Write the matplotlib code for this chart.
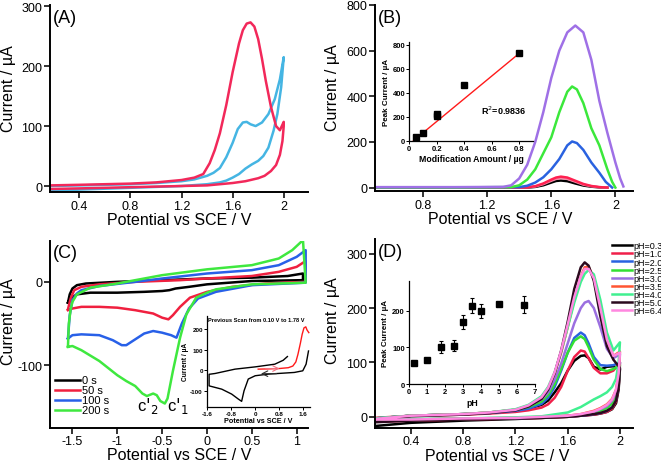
import matplotlib.pyplot as plt
from matplotlib.ticker import FuncFormatter

plt.rcParams['font.family'] = ['Liberation Sans', 'DejaVu Sans']
plt.rcParams['axes.unicode_minus'] = False

# ---------------- Panel A: CV, two electrodes ----------------
a_red_x = [0.17, 0.4, 0.8, 1.0, 1.2, 1.3, 1.37, 1.42, 1.46, 1.5, 1.55, 1.6, 1.65, 1.68, 1.71, 1.74,
           1.77, 1.8, 1.83, 1.86, 1.9, 1.94, 1.97, 2.0,
           2.0, 1.99, 1.97, 1.94, 1.9, 1.85, 1.8, 1.7, 1.6, 1.5, 1.4, 1.2, 0.8, 0.4, 0.17]
a_red_y = [1, 2, 4, 6, 10, 14, 20, 38, 60, 88, 135, 190, 238, 260, 271, 273,
           266, 245, 212, 175, 132, 100, 93, 107,
           100, 75, 52, 35, 25, 17, 13, 8, 5, 3, 1, 0, -2, -4, -5]
a_blue_x = [0.17, 0.4, 0.8, 1.0, 1.2, 1.3, 1.4, 1.45, 1.5, 1.55, 1.6, 1.64, 1.68, 1.71, 1.74, 1.78,
            1.83, 1.88, 1.93, 1.97, 2.0,
            2.0, 1.98, 1.95, 1.92, 1.88, 1.84, 1.8, 1.75, 1.7, 1.65, 1.6, 1.55, 1.5, 1.4, 1.2, 0.8, 0.4, 0.17]
a_blue_y = [0, 1, 3, 5, 8, 11, 17, 22, 30, 48, 72, 95, 106, 107, 103, 100,
            106, 120, 145, 178, 215,
            215, 165, 120, 92, 64, 50, 42, 36, 29, 20, 14, 9, 6, 3, 0, -3, -6, -9]

# ---------------- Panel B: DPV, modification amount ----------------
b_purple_x = [0.5, 1.0, 1.3, 1.35, 1.4, 1.45, 1.5, 1.55, 1.6, 1.65, 1.7, 1.75, 1.8, 1.85, 1.9, 1.95, 2.0, 2.03, 2.05]
b_purple_y = [2, 2, 3, 10, 40, 100, 200, 330, 480, 600, 680, 710, 680, 560, 380, 240, 110, 40, 5]
b_green_x = [0.5, 1.0, 1.35, 1.4, 1.45, 1.5, 1.55, 1.6, 1.65, 1.7, 1.73, 1.76, 1.8, 1.85, 1.9, 1.95, 1.98, 2.0]
b_green_y = [1, 1, 2, 10, 35, 80, 150, 220, 330, 420, 443, 430, 370, 260, 185, 80, 25, 0]
b_blue_x = [0.5, 1.0, 1.4, 1.45, 1.5, 1.55, 1.6, 1.65, 1.7, 1.73, 1.76, 1.8, 1.85, 1.9, 1.94, 1.98]
b_blue_y = [1, 1, 2, 8, 22, 45, 80, 125, 185, 202, 195, 165, 110, 65, 25, 0]
b_small_x = [0.5, 1.0, 1.45, 1.5, 1.55, 1.6, 1.63, 1.66, 1.7, 1.75, 1.8, 1.85, 1.9, 1.95]
b_red_y = [0, 0, 1, 6, 18, 35, 44, 48, 44, 30, 16, 7, 2, 0]
b_pink_y = [0, 0, 1, 5, 15, 30, 38, 41, 38, 26, 13, 6, 2, 0]
b_black_y = [0, 0, 0, 3, 10, 22, 29, 31, 28, 18, 9, 4, 1, 0]

# inset B: peak current vs modification amount
mod_amount = [0.05, 0.1, 0.2, 0.2, 0.4, 0.8]
mod_peak = [33, 62, 203, 222, 467, 728]
fit_x = [0.03, 0.8]
fit_y = [0, 728]

# ---------------- Panel C: CV after accumulation ----------------
c_black_x = [-1.55, -1.53, -1.5, -1.45, -1.35, -1.0, -0.5, 0, 0.5, 0.9, 1.07,
             1.07, 0.5, 0, -0.2, -0.35, -0.42, -0.5, -0.7, -1.0, -1.3, -1.45, -1.52, -1.55]
c_black_y = [-25, -15, -8, -4, -2, 0, 2, 4, 5, 7, 10,
             2, 1, -3, -6, -8, -10, -11, -12, -13, -13, -15, -20, -25]
c_red_x = [-1.55, -1.52, -1.48, -1.4, -1.2, -0.8, -0.3, 0, 0.5, 0.8, 1.0, 1.1,
           1.1, 0.65, 0.28, 0, -0.19, -0.3, -0.38, -0.43, -0.5, -0.6, -0.8, -1.0, -1.2, -1.4, -1.5, -1.55]
c_red_y = [-33, -20, -10, -6, -3, 0, 2, 4, 7, 12, 18, 25,
           0, -2, -6, -12, -19, -30, -40, -45, -43, -38, -34, -31, -30, -30, -32, -34]
c_blue_x = [-1.55, -1.53, -1.5, -1.45, -1.4, -1.2, -0.8, -0.5, 0, 0.5, 0.8, 1.0, 1.1,
            1.1, 0.5, 0.1, -0.1, -0.2, -0.28, -0.34, -0.4, -0.5, -0.6, -0.7, -0.8, -0.9, -0.95,
            -1.05, -1.2, -1.4, -1.5, -1.55]
c_blue_y = [-68, -40, -22, -14, -10, -5, 0, 4, 10, 14, 20, 30, 38,
            -1, -4, -12, -20, -32, -50, -67, -64, -61, -59, -62, -69, -76, -76,
            -70, -64, -63, -64, -68]
c_green_x = [-1.55, -1.54, -1.52, -1.5, -1.45, -1.3, -1.0, -0.5, 0, 0.3, 0.5, 0.8, 0.95, 1.07,
             1.1, 0.5, 0.1, 0, -0.12, -0.23, -0.3, -0.38, -0.44, -0.47, -0.52, -0.56, -0.6,
             -0.67, -0.72, -0.8, -0.9, -1.0, -1.2, -1.4, -1.5, -1.55]
c_green_y = [-78, -50, -33, -24, -15, -7, -2, 8, 15, 18, 20, 28, 38, 50,
             -1, -3, -9, -13, -19, -39, -67, -107, -140, -146, -143, -136, -134,
             -137, -134, -125, -119, -112, -95, -82, -77, -78]
c_labels = ['0 s', '50 s', '100 s', '200 s']

# inset C: previous scan
prev_red_x = [0.10, 0.4, 0.8, 1.1, 1.25, 1.35, 1.42, 1.5, 1.56, 1.62, 1.68, 1.72, 1.78]
prev_red_y = [5, 6, 8, 12, 20, 40, 77, 130, 174, 205, 210, 195, 182]
prev_black_x = [1.07, 0.93, 0.65, 0, -0.67, -1.33, -1.53, -1.53, -1.11, -0.78, -0.56, -0.45,
                -0.37, -0.23, 0, 0.44, 1.3, 1.58, 1.69, 1.77]
prev_black_y = [66, 48, 29, 16, 5, -16, -20, -76, -92, -116, -140, -151,
                -100, -43, -27, -19, -11, -3, 29, 93]
arrow_red = [0.25, 0.9, 8]
arrow_black = [0.8, 0.1, -17]

# ---------------- Panel D: CV at different pH ----------------
ph_labels = ['pH=0.3', 'pH=1.0', 'pH=2.0', 'pH=2.5', 'pH=3.0', 'pH=3.5', 'pH=4.0', 'pH=5.0', 'pH=6.4']
d_fwd_x = [0.12, 0.4, 0.8, 1.0, 1.2, 1.3, 1.4, 1.45, 1.5, 1.55, 1.6, 1.65, 1.7, 1.73, 1.76, 1.8,
           1.85, 1.9, 1.95, 2.0]
d_rev_x = [2.0, 1.99, 1.97, 1.94, 1.9, 1.85, 1.8, 1.7, 1.6, 1.4, 1.2, 0.8, 0.4, 0.12]
d_fwd_y = [
    [-3, 2, 5, 7, 11, 15, 22, 30, 45, 62, 85, 103, 112, 113, 108, 92, 87, 92, 93, 88],
    [-2, 2, 4, 6, 9, 12, 17, 23, 35, 55, 85, 110, 122, 120, 108, 90, 80, 80, 85, 100],
    [-3, 2, 5, 7, 11, 15, 24, 35, 55, 85, 118, 145, 155, 150, 135, 110, 95, 94, 95, 100],
    [-3, 2, 5, 8, 13, 18, 28, 40, 60, 88, 118, 140, 148, 143, 128, 105, 88, 84, 88, 95],
    [-3, 2, 5, 8, 13, 20, 32, 45, 68, 98, 135, 172, 200, 210, 213, 200, 165, 125, 108, 115],
    [-4, 2, 5, 8, 13, 20, 35, 52, 80, 118, 165, 215, 258, 275, 276, 255, 195, 140, 112, 120],
    [-3, 2, 5, 8, 14, 22, 38, 55, 82, 120, 165, 210, 248, 263, 270, 262, 215, 155, 122, 137],
    [-5, 1, 4, 7, 12, 19, 33, 50, 80, 122, 175, 235, 275, 284, 278, 250, 185, 130, 105, 90],
    [-4, 2, 5, 8, 13, 21, 36, 53, 82, 122, 170, 220, 258, 272, 272, 255, 200, 142, 112, 118],
]
d_rev_y = [
    [88, 50, 25, 14, 9, 6, 4, 2, 0, -2, -4, -7, -11, -17],
    [100, 55, 28, 15, 9, 6, 4, 2, 0, -2, -3, -5, -7, -9],
    [100, 60, 32, 18, 11, 7, 5, 2, 1, -1, -3, -4, -6, -8],
    [95, 62, 38, 24, 16, 11, 7, 3, 1, -1, -2, -4, -6, -8],
    [115, 75, 45, 30, 20, 14, 9, 4, 2, -1, -2, -3, -5, -6],
    [120, 80, 50, 33, 23, 16, 11, 5, 2, 0, -2, -3, -5, -6],
    [137, 100, 70, 55, 45, 38, 32, 18, 8, 1, -1, -3, -4, -5],
    [90, 55, 30, 17, 11, 7, 5, 2, 0, -2, -3, -5, -7, -10],
    [118, 80, 50, 32, 22, 15, 10, 5, 2, 0, -2, -3, -5, -5],
]
d_colors = ['#000000', '#F0204A', '#2A62E0', '#33E033', '#9B6FE0', '#FF5533', '#40F090', '#2B0A1E', '#FF88E0']

# inset D: peak current vs pH
ph_values = [0.3, 1.0, 1.8, 2.5, 3.0, 3.5, 4.0, 5.0, 6.4]
ph_peak = [57, 66, 101, 105, 169, 213, 199, 218, 216]
ph_err = [3, 4, 17, 14, 18, 20, 18, 5, 23]

W, H = 661, 464
fig = plt.figure(figsize=(W / 100, H / 100), dpi=100)


def box(left, top, right, bottom):
    return [left / W, 1 - bottom / H, (right - left) / W, (bottom - top) / H]


fmt = FuncFormatter(lambda v, p: '%g' % v)


def style(ax, xlim, ylim, xticks, yticks, size=9, lw=1.4, tl=4, bold=False):
    ax.set_facecolor('none')
    for s in ['top', 'right']:
        ax.spines[s].set_visible(False)
    for s in ['left', 'bottom']:
        ax.spines[s].set_linewidth(lw)
    ax.set_xlim(xlim)
    ax.set_ylim(ylim)
    ax.set_xticks(xticks)
    ax.set_yticks(yticks)
    ax.xaxis.set_major_formatter(fmt)
    ax.yaxis.set_major_formatter(fmt)
    ax.tick_params(direction='out', length=tl, width=lw * 0.8, labelsize=size, pad=max(1, tl * 0.4))
    if bold:
        plt.setp(ax.get_xticklabels() + ax.get_yticklabels(), fontweight='bold')


def labels(ax, xl, yl):
    ax.set_xlabel('Potential vs SCE / V', fontsize=11.5, va='center')
    ax.xaxis.set_label_coords(*xl)
    ax.set_ylabel('Current / µA', fontsize=11.5, va='center')
    ax.yaxis.set_label_coords(*yl)


LW = 1.8

# ---- A ----
axA = fig.add_axes(box(50, 6, 308, 193))
axA.plot(a_blue_x, a_blue_y, color='#45B5E3', lw=LW)
axA.plot(a_red_x, a_red_y, color='#F2285A', lw=LW)
style(axA, (0.17, 2.19), (-10, 302), [0.4, 0.8, 1.2, 1.6, 2.0], [0, 100, 200, 300])
labels(axA, (0.5, -0.147), (-0.162, 0.56))
axA.text(0.012, 0.979, '(A)', transform=axA.transAxes, fontsize=13, va='top')

# ---- B ----
axB = fig.add_axes(box(375, 6, 633, 192))
axB.plot(b_small_x, b_black_y, color='#000000', lw=LW)
axB.plot(b_small_x, b_pink_y, color='#F48AA8', lw=LW)
axB.plot(b_small_x, b_red_y, color='#FF2050', lw=LW)
axB.plot(b_blue_x, b_blue_y, color='#2A62E0', lw=LW)
axB.plot(b_green_x, b_green_y, color='#3BE83B', lw=LW)
axB.plot(b_purple_x, b_purple_y, color='#9F70E6', lw=LW)
style(axB, (0.5, 2.11), (-15, 800), [0.8, 1.2, 1.6, 2.0], [0, 200, 400, 600, 800])
labels(axB, (0.484, -0.147), (-0.163, 0.56))
axB.text(0.012, 0.979, '(B)', transform=axB.transAxes, fontsize=13, va='top')

insB = fig.add_axes(box(409.3, 43.3, 533, 141.7))
insB.plot(fit_x, fit_y, color='#FF1A1A', lw=1.0)
insB.plot(mod_amount, mod_peak, 's', color='black', ms=4.2)
style(insB, (0, 0.9), (0, 820), [0, 0.2, 0.4, 0.6, 0.8], [0, 200, 400, 600, 800],
      size=5.5, lw=0.9, tl=2, bold=True)
insB.set_xlabel('Modification Amount / µg', fontsize=6.3, fontweight='bold', labelpad=1.5)
insB.set_ylabel('Peak Current / µA', fontsize=5.8, fontweight='bold', labelpad=2)
insB.text(0.58, 0.31, 'R$^2$=0.9836', transform=insB.transAxes, fontsize=6.5, fontweight='bold',
          va='center')

# ---- C ----
axC = fig.add_axes(box(50, 242, 308, 428.7))
c_colors = ['#000000', '#F0203F', '#2860E8', '#3FE83F']
for xs, ys, col, lab in zip([c_black_x, c_red_x, c_blue_x, c_green_x],
                            [c_black_y, c_red_y, c_blue_y, c_green_y], c_colors, c_labels):
    axC.plot(xs, ys, color=col, lw=LW, label=lab)
style(axC, (-1.75, 1.126), (-175, 49), [-1.5, -1, -0.5, 0, 0.5, 1], [-100, 0])
labels(axC, (0.5, -0.145), (-0.162, 0.575))
axC.text(0.012, 0.984, '(C)', transform=axC.transAxes, fontsize=13, va='top')
axC.text(-0.665, -148, r"c$'_2$", fontsize=12, ha='center', va='center')
axC.text(-0.33, -148, r"c$'_1$", fontsize=12, ha='center', va='center')
axC.legend(loc='upper left', bbox_to_anchor=(0.019, 0.28), frameon=False, fontsize=8,
           handlelength=2.3, handletextpad=0.1, labelspacing=0.0, borderpad=0, borderaxespad=0)

insC = fig.add_axes(box(207, 316.7, 310, 407.7))
insC.plot(prev_black_x, prev_black_y, color='black', lw=1.0)
insC.plot(prev_red_x, prev_red_y, color='#FF1A1A', lw=1.0)
insC.annotate('', xy=(arrow_red[1], arrow_red[2]), xytext=(arrow_red[0], arrow_red[2]),
              arrowprops=dict(arrowstyle='->', color='#F07080', lw=0.8))
insC.annotate('', xy=(arrow_black[1], arrow_black[2]), xytext=(arrow_black[0], arrow_black[2]),
              arrowprops=dict(arrowstyle='->', color='#303030', lw=0.8))
style(insC, (-1.6, 1.82), (-177, 264), [-1.6, -0.8, 0, 0.8, 1.6], [-100, 0, 100, 200],
      size=4.5, lw=0.9, tl=2, bold=True)
insC.set_xlabel('Potential vs SCE / V', fontsize=5.2, fontweight='bold', labelpad=1)
insC.set_ylabel('Current / µA', fontsize=4.8, fontweight='bold', labelpad=1)
insC.text(0.005, 0.955, 'Previous Scan from 0.10 V to 1.78 V', transform=insC.transAxes,
          fontsize=4.1, fontweight='bold', va='center')

# ---- D ----
axD = fig.add_axes(box(375, 240, 633, 428.7))
for i in range(len(ph_labels)):
    axD.plot(d_fwd_x + d_rev_x, d_fwd_y[i] + d_rev_y[i], color=d_colors[i], lw=LW, label=ph_labels[i])
style(axD, (0.124, 2.1), (-20, 327), [0.4, 0.8, 1.2, 1.6, 2.0], [0, 100, 200, 300])
labels(axD, (0.472, -0.145), (-0.163, 0.575))
axD.text(0.012, 0.979, '(D)', transform=axD.transAxes, fontsize=13, va='top')
fig.legend(*axD.get_legend_handles_labels(), loc='upper left', bbox_to_anchor=(612 / W, 1 - 242.4 / H),
           frameon=False, fontsize=6.5, handlelength=2.2, handletextpad=0.15, labelspacing=-0.1,
           borderpad=0, borderaxespad=0)

insD = fig.add_axes(box(409, 282, 535, 385.3))
insD.errorbar(ph_values, ph_peak, yerr=ph_err, fmt='s', color='black', ms=4.2, capsize=1.5,
              elinewidth=0.8, capthick=0.8)
style(insD, (0, 7), (0, 280), [0, 1, 2, 3, 4, 5, 6, 7], [0, 100, 200], size=5.5, lw=0.9, tl=2, bold=True)
insD.set_xlabel('pH', fontsize=6.3, fontweight='bold', labelpad=1.5)
insD.set_ylabel('Peak Current / µA', fontsize=5.8, fontweight='bold', labelpad=2)

fig.savefig('out.png', dpi=100)
